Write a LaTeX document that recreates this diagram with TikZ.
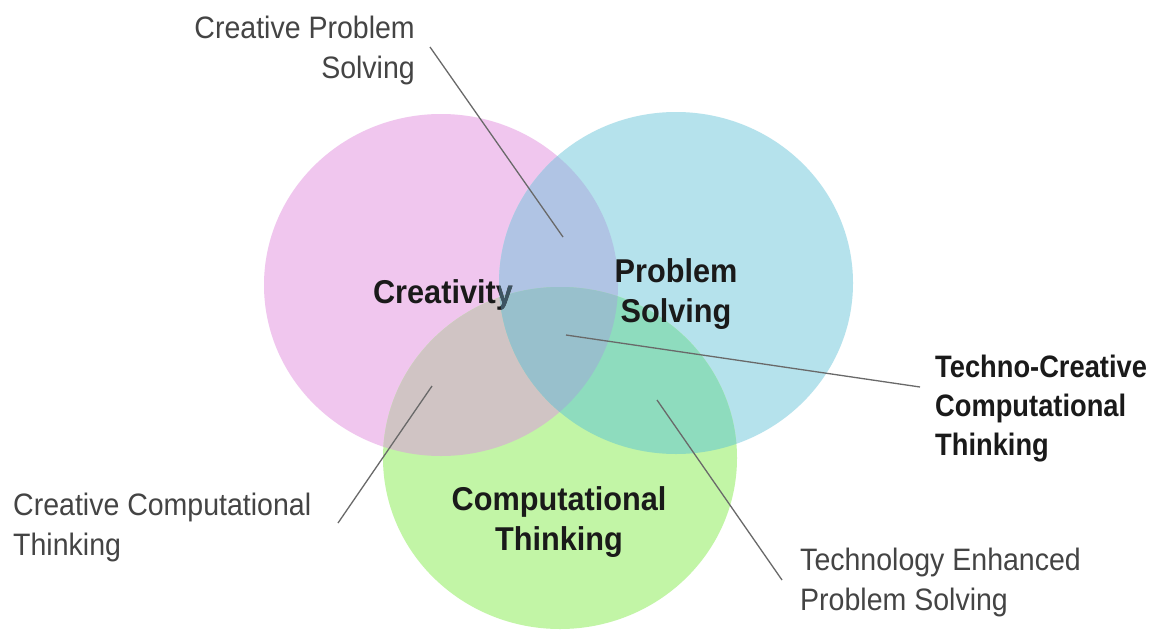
\documentclass[tikz,border=0pt]{standalone}
\usepackage{fontspec}
\newfontfamily\regfont[FakeStretch=0.92]{Liberation Sans}
\newfontfamily\boldfont[FakeStretch=0.93]{Liberation Sans}
\newfontfamily\boldnarrow[FakeStretch=0.88]{Liberation Sans}
\definecolor{pinkC}{RGB}{240,198,238}
\definecolor{blueC}{RGB}{181,226,236}
\definecolor{greenC}{RGB}{194,245,166}
\definecolor{pbC}{RGB}{176,196,228}
\definecolor{pgC}{RGB}{208,196,196}
\definecolor{bgC}{RGB}{142,220,190}
\definecolor{triC}{RGB}{152,192,204}
\definecolor{tintC}{RGB}{60,84,98}
\definecolor{lineC}{RGB}{105,105,105}
\definecolor{smallT}{RGB}{68,68,68}
\definecolor{bigT}{RGB}{26,26,26}
\tikzset{
  venn/.style={x radius=177pt, y radius=171pt},
  smalllabel/.style={font=\regfont\fontsize{31}{40}\selectfont, text=smallT, inner sep=0pt},
  biglabel/.style={font=\boldfont\bfseries\fontsize{33}{40}\selectfont, text=bigT, inner sep=0pt, align=center},
  sidelabel/.style={font=\boldnarrow\bfseries\fontsize{31}{39}\selectfont, text=bigT, inner sep=0pt, align=left},
  leader/.style={draw=lineC, line width=1.3pt}
}
\begin{document}
\begin{tikzpicture}[x=1pt, y=-1pt]
\useasboundingbox (0,0) rectangle (1158,632);
\fill[white] (0,0) rectangle (1158,632);
\coordinate (pc) at (441,285);
\coordinate (bc) at (676,283);
\coordinate (gc) at (560,458);
% circles
\fill[pinkC] (pc) ellipse [venn];
\fill[blueC] (bc) ellipse [venn];
\fill[greenC] (gc) ellipse [venn];
\begin{scope}
  \clip (pc) ellipse [venn];
  \fill[pbC] (bc) ellipse [venn];
  \fill[pgC] (gc) ellipse [venn];
\end{scope}
\begin{scope}
  \clip (bc) ellipse [venn];
  \fill[bgC] (gc) ellipse [venn];
  \clip (pc) ellipse [venn];
  \fill[triC] (gc) ellipse [venn];
\end{scope}
% main labels (base anchor = baseline of the last line)
\node[biglabel, anchor=base] (crea) at (443,303) {Creativity};
\begin{scope}[blend mode=lighten]
  \clip (crea.south west) rectangle (crea.north east);
  \fill[tintC] (bc) ellipse [venn];
\end{scope}
\node[biglabel, anchor=base] (ps) at (676,322) {Problem\\Solving};
\node[biglabel, anchor=base] (ct) at (559,550) {Computational\\Thinking};
% side labels
\node[smalllabel, anchor=base east, align=right] (cps) at (415,78) {Creative Problem\\Solving};
\node[sidelabel, anchor=base west] (tcct) at (935,455) {Techno-Creative\\Computational\\Thinking};
\node[smalllabel, anchor=base west, align=left] (cct) at (13,555) {Creative Computational\\Thinking};
\node[smalllabel, anchor=base west, align=left] (teps) at (800,610) {Technology Enhanced\\Problem Solving};
% leader lines
\coordinate (cpsA) at (430,47);
\coordinate (cpsB) at (563,237);
\coordinate (tcA) at (566,335);
\coordinate (tcB) at (920,387);
\coordinate (ccA) at (432,386);
\coordinate (ccB) at (338,523);
\coordinate (teA) at (657,400);
\coordinate (teB) at (782,580);
\draw[leader] (cpsA) -- (cpsB);
\draw[leader] (tcA) -- (tcB);
\draw[leader] (ccA) -- (ccB);
\draw[leader] (teA) -- (teB);
\end{tikzpicture}
\end{document}
